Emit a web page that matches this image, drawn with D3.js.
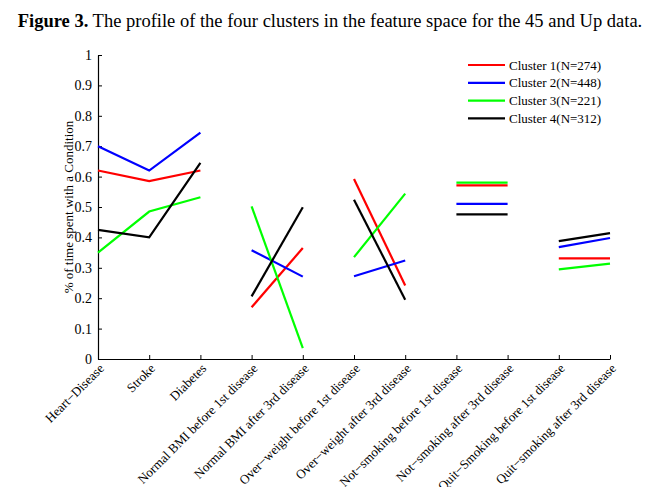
<!DOCTYPE html>
<html>
<head>
<meta charset="utf-8">
<script src="https://cdn.jsdelivr.net/npm/d3@7"></script>
<style>
  body { margin: 0; background: #fff; }
</style>
</head>
<body>
<svg id="chart"></svg>
<script>
// categories along the x axis
const categories = [
  'Heart\u2212Disease', 'Stroke', 'Diabetes',
  'Normal BMI before 1st disease', 'Normal BMI after 3rd disease',
  'Over\u2212weight before 1st disease', 'Over\u2212weight after 3rd disease',
  'Not\u2212smoking before 1st disease', 'Not\u2212smoking after 3rd disease',
  'Quit\u2212Smoking before 1st disease', 'Quit\u2212smoking after 3rd disease'
];

// which categories are joined by a line
const groups = [[0, 1, 2], [3, 4], [5, 6], [7, 8], [9, 10]];

const clusterNames = ['Cluster 1(N=274)', 'Cluster 2(N=448)', 'Cluster 3(N=221)', 'Cluster 4(N=312)'];
const clusterColors = ['#ff0000', '#0000ff', '#00ff00', '#000000'];

const cluster1 = [0.62, 0.585, 0.62, 0.170, 0.365, 0.592, 0.242, 0.571, 0.571, 0.331, 0.331];
const cluster2 = [0.70, 0.62, 0.745, 0.358, 0.271, 0.272, 0.324, 0.510, 0.510, 0.368, 0.398];
const cluster3 = [0.35, 0.485, 0.532, 0.502, 0.036, 0.335, 0.544, 0.580, 0.580, 0.295, 0.314];
const cluster4 = [0.425, 0.40, 0.645, 0.206, 0.499, 0.524, 0.195, 0.476, 0.476, 0.388, 0.414];
const clusters = [cluster1, cluster2, cluster3, cluster4];

const yTicks = [0, 0.1, 0.2, 0.3, 0.4, 0.5, 0.6, 0.7, 0.8, 0.9, 1];

const width = 653, height = 487;
const margin = { top: 55, right: 43, bottom: 128, left: 98 };
const innerW = width - margin.left - margin.right;
const innerH = height - margin.top - margin.bottom;
const serif = '"Liberation Serif", "Times New Roman", serif';

const svg = d3.select('#chart')
  .attr('width', width)
  .attr('height', height);

// title
const title = svg.append('text')
  .attr('x', 330)
  .attr('y', 27)
  .attr('text-anchor', 'middle')
  .style('font-family', serif)
  .style('font-size', '18.5px');
title.append('tspan').style('font-weight', 'bold').text('Figure 3.');
title.append('tspan').text(' The profile of the four clusters in the feature space for the 45 and Up data.');

const g = svg.append('g')
  .attr('transform', `translate(${margin.left},${margin.top})`);

const x = d3.scalePoint()
  .domain(d3.range(categories.length))
  .range([0, innerW]);

const y = d3.scaleLinear()
  .domain([0, 1])
  .range([innerH, 0]);

// axes, ticks pointing inward
const xAxis = g.append('g')
  .attr('transform', `translate(0,${innerH})`)
  .call(d3.axisBottom(x).tickSize(-4).tickSizeOuter(0).tickFormat((i) => categories[i]));

xAxis.selectAll('text')
  .attr('text-anchor', 'end')
  .attr('transform', 'translate(3,7) rotate(-45)')
  .attr('dy', '0.35em')
  .attr('x', 0)
  .attr('y', 0)
  .style('font-family', serif)
  .style('font-size', '13px')
  .attr('fill', '#000');

const yAxis = g.append('g')
  .call(d3.axisLeft(y).tickValues(yTicks).tickSize(-4).tickSizeOuter(0).tickPadding(6).tickFormat(d3.format('')));

yAxis.selectAll('text')
  .style('font-family', serif)
  .style('font-size', '14px')
  .attr('fill', '#000');

g.selectAll('.domain').attr('stroke', '#000').attr('stroke-width', 1.2);
g.selectAll('.tick line').attr('stroke', '#000');

// y axis label
svg.append('text')
  .attr('transform', `translate(73,${margin.top + innerH / 2}) rotate(-90)`)
  .attr('text-anchor', 'middle')
  .style('font-family', serif)
  .style('font-size', '13px')
  .text('% of time spent with a Condition');

// lines, one per cluster per group
clusters.forEach((vals, c) => {
  const line = d3.line()
    .x((i) => x(i))
    .y((i) => y(vals[i]));
  g.selectAll(null)
    .data(groups)
    .enter()
    .append('path')
    .attr('d', (d) => line(d))
    .attr('fill', 'none')
    .attr('stroke', clusterColors[c])
    .attr('stroke-width', 2.2);
});

// legend
const legend = svg.append('g')
  .attr('transform', 'translate(468,65)');

const items = legend.selectAll('g')
  .data(clusterNames)
  .enter()
  .append('g')
  .attr('transform', (d, i) => `translate(0,${i * 17.8})`);

items.append('line')
  .attr('x1', 0)
  .attr('x2', 37)
  .attr('stroke', (d, i) => clusterColors[i])
  .attr('stroke-width', 2.2);

items.append('text')
  .attr('x', 41)
  .attr('dy', '0.35em')
  .style('font-family', serif)
  .style('font-size', '13px')
  .text((d) => d);
</script>
</body>
</html>
